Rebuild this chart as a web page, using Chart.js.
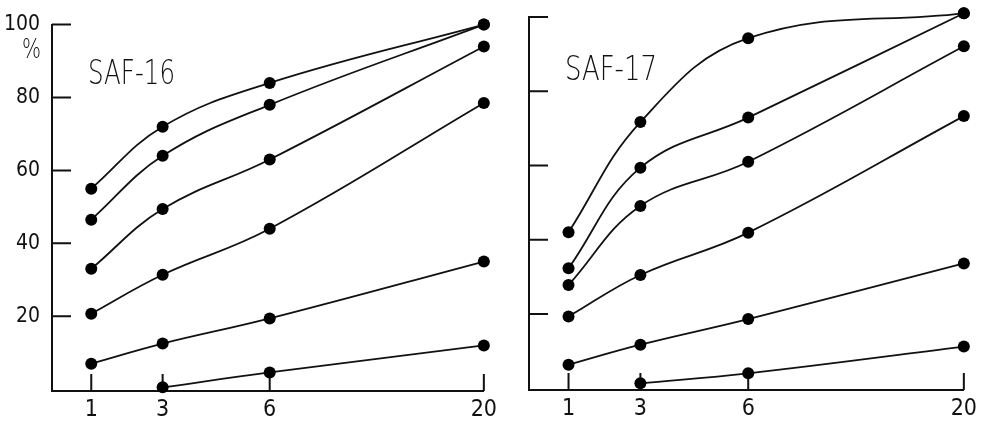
<!DOCTYPE html>
<html>
<head>
<meta charset="utf-8">
<title>SAF-16 / SAF-17</title>
<script src="https://cdn.jsdelivr.net/npm/chart.js@4/dist/chart.umd.min.js"></script>
<style>
  html, body { margin: 0; padding: 0; background: #fff; }
  body { width: 982px; height: 426px; position: relative; overflow: hidden; }
  canvas { position: absolute; top: 0; }
  #left { left: 0; }
  #right { left: 480px; }
</style>
</head>
<body>
<canvas id="left" width="502" height="426"></canvas>
<canvas id="right" width="502" height="426"></canvas>
<script>
// Sampling times (x axis) and the tick values of both axes
const times = [1, 3, 6, 20];
const xTicks = [1, 3, 6, 20];
const yTicks = [20, 40, 60, 80, 100];

// SAF-16, percent per series at each time (null = not measured)
const saf16A = [55, 72, 84, 100];
const saf16B = [46.5, 64, 78, 100];
const saf16C = [33, 49.4, 63, 94];
const saf16D = [20.7, 31.4, 44, 78.5];
const saf16E = [7, 12.5, 19.4, 35];
const saf16F = [null, 0.5, 4.6, 12];

// SAF-17
const saf17A = [42, 71.7, 94.3, 101];
const saf17B = [32.3, 59.4, 72.9, 101];
const saf17C = [27.8, 49.1, 61, 92.1];
const saf17D = [19.3, 30.5, 41.9, 73.3];
const saf17E = [6.3, 11.7, 18.6, 33.6];
const saf17F = [null, 1.3, 4.0, 11.2];

const INK = '#111';
const FONT = "'DejaVu Sans Condensed', 'DejaVu Sans', sans-serif";

// Time axis with a break: linear up to 6, compressed beyond it
const BREAK_AT = 6;
const SQUEEZE = 3 / 7;
const squash = v => (v <= BREAK_AT ? v : BREAK_AT + (v - BREAK_AT) * SQUEEZE);
const unsquash = u => (u <= BREAK_AT ? u : BREAK_AT + (u - BREAK_AT) / SQUEEZE);

class BrokenScale extends Chart.LinearScale {
  determineDataLimits() {
    super.determineDataLimits();
    this.min = squash(this.min);
    this.max = squash(this.max);
  }
  getPixelForValue(v) { return super.getPixelForValue(squash(v)); }
  getValueForPixel(p) { return unsquash(super.getValueForPixel(p)); }
}
BrokenScale.id = 'broken';
BrokenScale.defaults = Chart.LinearScale.defaults;
Chart.register(BrokenScale);

// Draw text squeezed horizontally to a given width (hand-lettered look)
function narrowText(ctx, text, x, y, font, width, align) {
  ctx.save();
  ctx.font = font;
  const k = width / ctx.measureText(text).width;
  ctx.translate(align === 'right' ? x - width : x, y);
  ctx.scale(k, 1);
  ctx.textAlign = 'left';
  ctx.fillText(text, 0, 0);
  ctx.restore();
}

// Inward tick marks, panel title and the % unit
const decor = {
  id: 'decor',
  beforeDatasetsDraw(chart, args, opts) {
    const { ctx, chartArea: a, scales: { x, y } } = chart;
    ctx.save();
    ctx.strokeStyle = INK;
    ctx.lineWidth = 2;
    ctx.beginPath();
    for (const t of y.ticks) {
      const py = y.getPixelForValue(t.value);
      ctx.moveTo(a.left, py);
      ctx.lineTo(a.left + 19, py);
    }
    for (const t of x.ticks) {
      const px = x.getPixelForValue(t.value);
      ctx.moveTo(px, a.bottom);
      ctx.lineTo(px, a.bottom - 17);
    }
    ctx.stroke();

    ctx.fillStyle = INK;
    ctx.textBaseline = 'alphabetic';
    narrowText(ctx, opts.title, a.left + opts.dx, a.top + opts.dy,
      "200 34px 'DejaVu Sans', sans-serif", opts.titleWidth, 'left');

    if (opts.unit) {
      narrowText(ctx, opts.unit, a.left - 11, y.getPixelForValue(100) + 33,
        "200 27px 'DejaVu Sans', sans-serif", 19, 'right');
    }
    ctx.restore();
  }
};

function dataset(values) {
  return {
    data: times.map((t, i) => ({ x: t, y: values[i] })),
    borderColor: INK,
    borderWidth: 1.8,
    tension: 0.4,
    pointRadius: 6,
    pointBackgroundColor: '#000',
    pointBorderWidth: 0,
    clip: false
  };
}

function makeChart(id, series, cfg) {
  return new Chart(document.getElementById(id), {
    type: 'line',
    data: { datasets: series.map(dataset) },
    plugins: [decor],
    options: {
      responsive: false,
      animation: false,
      events: [],
      layout: { padding: { top: cfg.top, right: cfg.right, left: 0, bottom: 0 } },
      elements: { line: { capBezierPoints: false } },
      plugins: {
        legend: { display: false },
        tooltip: { enabled: false },
        decor: { title: cfg.title, titleWidth: cfg.titleWidth, dx: 36, dy: cfg.titleDy, unit: cfg.unit }
      },
      scales: {
        x: {
          type: 'broken',
          bounds: 'data',
          min: -0.1,
          max: 20,
          afterBuildTicks: s => { s.ticks = xTicks.map(v => ({ value: v })); },
          afterFit: s => { s.height = 426 - cfg.axisY; },
          grid: { display: false, drawTicks: false },
          border: { display: true, color: INK, width: 2 },
          ticks: {
            autoSkip: false,
            maxRotation: 0,
            padding: 5,
            color: INK,
            font: { family: FONT, size: 23 },
            callback: v => String(v)
          }
        },
        y: {
          type: 'linear',
          bounds: 'data',
          min: -0.5,
          max: 100,
          afterBuildTicks: s => { s.ticks = yTicks.map(v => ({ value: v })); },
          afterFit: s => { s.width = cfg.axisX; },
          grid: { display: false, drawTicks: false },
          border: { display: true, color: INK, width: 2 },
          ticks: {
            display: cfg.yLabels,
            padding: 12,
            color: INK,
            font: { family: FONT, size: 21 },
            callback: v => String(v)
          }
        }
      }
    }
  });
}

makeChart('left', [saf16A, saf16B, saf16C, saf16D, saf16E, saf16F],
  { title: 'SAF-16', titleWidth: 87, titleDy: 59, unit: '%', top: 23, right: 10, axisX: 52, axisY: 391, yLabels: true });
makeChart('right', [saf17A, saf17B, saf17C, saf17D, saf17E, saf17F],
  { title: 'SAF-17', titleWidth: 92, titleDy: 63, unit: null, top: 17, right: 11, axisX: 49, axisY: 390, yLabels: false });
</script>
</body>
</html>
